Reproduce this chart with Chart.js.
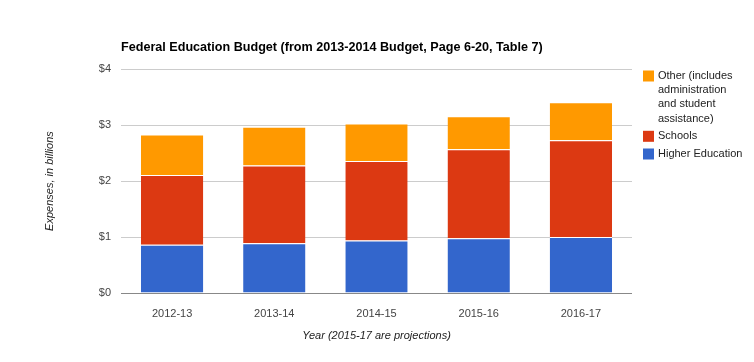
<!DOCTYPE html>
<html>
<head>
<meta charset="utf-8">
<script src="https://cdn.jsdelivr.net/npm/chart.js@4"></script>
<style>
  html, body { margin: 0; padding: 0; background: #fff; }
  #wrap { width: 754px; height: 362px; }
</style>
</head>
<body>
<div id="wrap"><canvas id="myChart"></canvas></div>
<script>
var years = ['2012-13', '2013-14', '2014-15', '2015-16', '2016-17'];
var higherEd = [0.86, 0.89, 0.94, 0.98, 1.00];
var schools = [1.25, 1.39, 1.42, 1.59, 1.73];
var other = [0.72, 0.69, 0.67, 0.59, 0.68];
var yTicks = [0, 1, 2, 3, 4];

Chart.defaults.font.family = 'Arial, "Liberation Sans", sans-serif';

// legend on the right, with the long label wrapped over several lines
const sideLegend = {
  id: 'sideLegend',
  afterDraw(chart) {
    const { ctx } = chart;
    const items = [
      { lines: ['Other (includes', 'administration', 'and student', 'assistance)'], color: '#FF9900' },
      { lines: ['Schools'], color: '#DC3912' },
      { lines: ['Higher Education'], color: '#3366CC' }
    ];
    ctx.save();
    ctx.font = '11px Arial, "Liberation Sans", sans-serif';
    ctx.textBaseline = 'middle';
    ctx.textAlign = 'left';
    let y = 76;
    items.forEach(function (it) {
      ctx.fillStyle = it.color;
      ctx.fillRect(643, y - 5.5, 11, 11);
      ctx.fillStyle = '#222';
      it.lines.forEach(function (line) {
        ctx.fillText(line, 658, y);
        y += 14.2;
      });
      y += 3.5;
    });
    ctx.restore();
  }
};

var myChart = new Chart(document.getElementById('myChart'), {
  type: 'bar',
  data: {
    labels: years,
    datasets: [
      { label: 'Higher Education', data: higherEd, backgroundColor: '#3366CC' },
      { label: 'Schools', data: schools, backgroundColor: '#DC3912' },
      { label: 'Other (includes administration and student assistance)', data: other, backgroundColor: '#FF9900' }
    ]
  },
  options: {
    responsive: true,
    maintainAspectRatio: false,
    animation: false,
    layout: { padding: { top: 0, right: 122, bottom: 0, left: 0 } },
    datasets: {
      bar: {
        barPercentage: 0.61,
        categoryPercentage: 1,
        borderWidth: { top: 1 },
        borderColor: '#fff',
        borderSkipped: 'bottom'
      }
    },
    plugins: {
      legend: { display: false },
      tooltip: { enabled: false },
      title: {
        display: true,
        text: 'Federal Education Budget (from 2013-2014 Budget, Page 6-20, Table 7)',
        align: 'start',
        fullSize: false,
        color: '#000',
        font: { size: 12.6, weight: 'bold' },
        padding: { top: 40, bottom: 14 }
      }
    },
    scales: {
      x: {
        stacked: true,
        grid: { display: false },
        border: { display: false },
        ticks: { color: '#444', font: { size: 11 }, padding: 6 },
        title: {
          display: true,
          text: 'Year (2015-17 are projections)',
          color: '#222',
          font: { size: 11, style: 'italic' },
          padding: { top: 0, bottom: 19 }
        },
        afterFit(scale) { scale.height = 69; }
      },
      y: {
        stacked: true,
        min: 0,
        max: 4,
        afterBuildTicks(scale) { scale.ticks = yTicks.map(function (v) { return { value: v }; }); },
        grid: {
          drawTicks: false,
          color: function (c) { return c.tick && c.tick.value === 0 ? '#888' : '#ccc'; }
        },
        border: { display: false },
        ticks: {
          color: '#444',
          font: { size: 11 },
          padding: 10,
          callback: function (v) { return '$' + v; }
        },
        title: {
          display: true,
          text: 'Expenses, in billions',
          color: '#222',
          font: { size: 11, style: 'italic' },
          padding: { top: 43, bottom: 0 }
        },
        afterFit(scale) { scale.width = 121; }
      }
    }
  },
  plugins: [sideLegend]
});
</script>
</body>
</html>
